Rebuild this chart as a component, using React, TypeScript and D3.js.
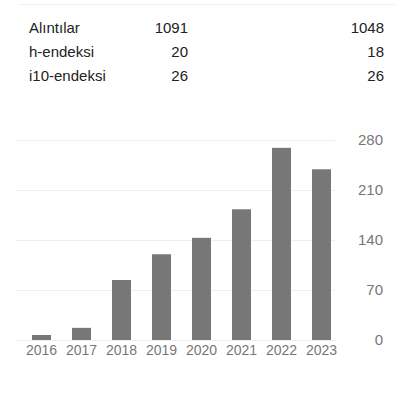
import React, { useEffect, useRef } from 'react';
import * as d3 from 'd3';

// tablo
const rowLabels = ['Alıntılar', 'h-endeksi', 'i10-endeksi'];
const allValues = [1091, 20, 26];
const sinceValues = [1048, 18, 26];

// grafik
const years = ['2016', '2017', '2018', '2019', '2020', '2021', '2022', '2023'];
const citations = [7, 17, 84, 120, 143, 183, 269, 239];
const yTicks = [0, 70, 140, 210, 280];

const FONT = "Arial, 'Liberation Sans', sans-serif";

function App() {
  const svgRef = useRef<SVGSVGElement>(null);

  useEffect(() => {
    const svg = d3.select(svgRef.current);
    svg.selectAll('*').remove();

    // ust cizgi
    svg
      .append('line')
      .attr('x1', 20)
      .attr('x2', 395)
      .attr('y1', 4.5)
      .attr('y2', 4.5)
      .attr('stroke', '#eeeeee');

    const rowY = d3.scalePoint<string>().domain(rowLabels).range([28, 76]);
    const table = svg.append('g').attr('font-family', FONT).attr('font-size', 15).attr('fill', '#222');
    table
      .selectAll('.lbl')
      .data(rowLabels)
      .join('text')
      .attr('x', 29)
      .attr('y', (d) => rowY(d)!)
      .attr('dy', '0.35em')
      .text((d) => d);
    table
      .selectAll('.all')
      .data(allValues)
      .join('text')
      .attr('x', 188)
      .attr('y', (d, i) => rowY(rowLabels[i])!)
      .attr('dy', '0.35em')
      .attr('text-anchor', 'end')
      .text((d) => d);
    table
      .selectAll('.since')
      .data(sinceValues)
      .join('text')
      .attr('x', 384)
      .attr('y', (d, i) => rowY(rowLabels[i])!)
      .attr('dy', '0.35em')
      .attr('text-anchor', 'end')
      .text((d) => d);

    const x = d3.scaleBand<string>().domain(years).range([11, 352]).paddingInner(0.525).paddingOuter(0.525);
    const y = d3.scaleLinear().domain([0, 280]).range([340, 140]);

    // izgara
    svg
      .append('g')
      .selectAll('line')
      .data(yTicks)
      .join('line')
      .attr('x1', 16)
      .attr('x2', 335)
      .attr('y1', (d) => Math.round(y(d)) + 0.5)
      .attr('y2', (d) => Math.round(y(d)) + 0.5)
      .attr('stroke', '#eeeeee');

    svg
      .append('g')
      .selectAll('text')
      .data(yTicks)
      .join('text')
      .attr('x', 383)
      .attr('y', (d) => y(d))
      .attr('dy', '0.35em')
      .attr('text-anchor', 'end')
      .attr('font-family', FONT)
      .attr('font-size', 15)
      .attr('fill', '#777')
      .text((d) => d);

    // cubuklar
    svg
      .append('g')
      .selectAll('rect')
      .data(citations)
      .join('rect')
      .attr('x', (d, i) => x(years[i])!)
      .attr('width', x.bandwidth())
      .attr('y', (d) => y(d))
      .attr('height', (d) => y(0) - y(d))
      .attr('fill', '#777');

    svg
      .append('g')
      .selectAll('text')
      .data(years)
      .join('text')
      .attr('x', (d) => x(d)! + x.bandwidth() / 2)
      .attr('y', 350)
      .attr('dy', '0.35em')
      .attr('text-anchor', 'middle')
      .attr('font-family', FONT)
      .attr('font-size', 14)
      .attr('fill', '#777')
      .text((d) => d);
  }, []);

  return (
    <svg
      ref={svgRef}
      width={414}
      height={398}
      style={{ position: 'absolute', left: 0, top: 0, background: '#fff' }}
    />
  );
}

export default App;
